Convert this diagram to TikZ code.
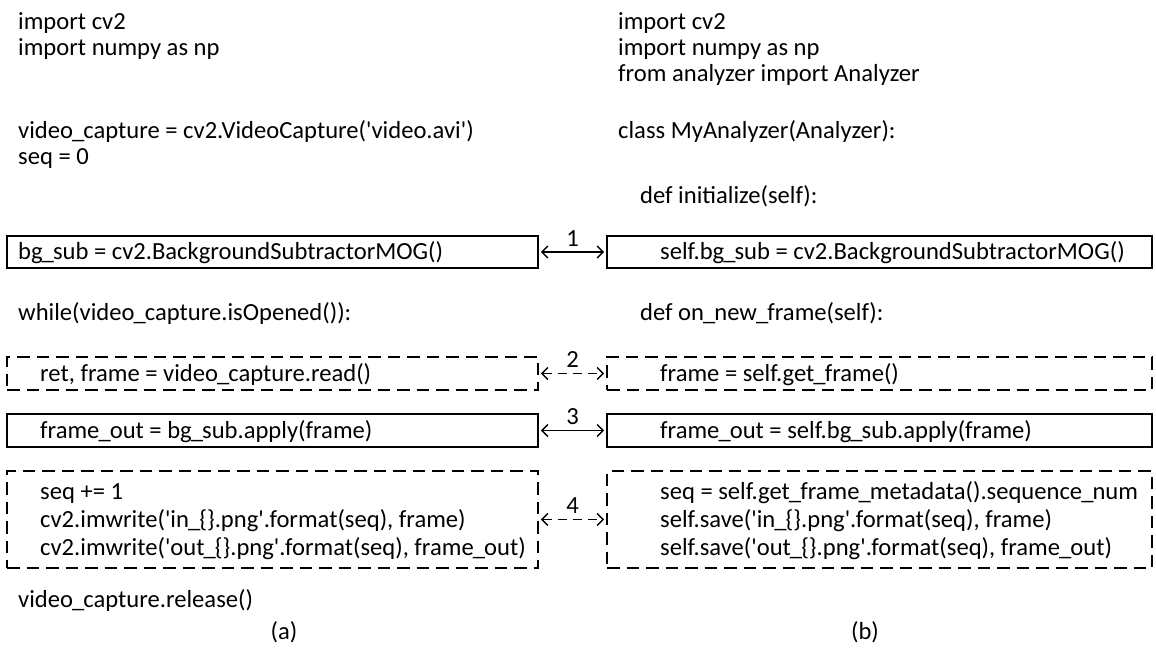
\documentclass[tikz,border=0pt]{standalone}
\usepackage{fontspec}
\setmainfont{Carlito}
\usetikzlibrary{arrows.meta}
\newcommand\us{\makebox[0.42em][c]{\_}}
\newcommand\sq{\XeTeXglyph\XeTeXcharglyph"27\relax}
\tikzset{
  every node/.style={font=\fontsize{24.6}{29}\selectfont, inner sep=0pt},
  code/.style={anchor=base west, yshift=-7.5pt},
  solidbox/.style={draw, line width=1.8pt, inner sep=0pt},
  dashbox/.style={draw, line width=1.8pt, dash pattern=on 12.5pt off 7pt, inner sep=0pt},
  link/.style={line width=1.4pt, {Straight Barb[length=6pt,width=12pt]}-{Straight Barb[length=6pt,width=12pt]}},
  dlink/.style={link, dash pattern=on 9pt off 6pt},
  lbl/.style={anchor=south, yshift=5pt}
}
\begin{document}
\begin{tikzpicture}[x=1pt,y=-1pt]
\useasboundingbox (0,0) rectangle (1156,649);
% left column
\node[code] (a1) at (18,22) {import cv2};
\node[code] (a2) at (18,48) {import numpy as np};
\node[code] (a3) at (18,131) {video\us capture = cv2.VideoCapture(\sq video.avi\sq)};
\node[code] (a4) at (18,157) {seq = 0};
\node[solidbox, minimum width=531pt, minimum height=32pt] (L1) at (272.5,252) {};
\node[code] (a5) at (18,252) {bg\us sub = cv2.BackgroundSubtractorMOG()};
\node[code] (a6) at (18,313) {while(video\us capture.isOpened()):};
\node[dashbox, minimum width=531pt, minimum height=33pt] (L2) at (272.5,373.5) {};
\node[code] (a7) at (40,373.5) {ret, frame = video\us capture.read()};
\node[solidbox, minimum width=531pt, minimum height=33pt] (L3) at (272.5,430.5) {};
\node[code] (a8) at (40,430.5) {frame\us out = bg\us sub.apply(frame)};
\node[dashbox, minimum width=531pt, minimum height=97pt] (L4) at (272.5,519.5) {};
\node[code] (a9) at (40,492) {seq += 1};
\node[code] (a10) at (40,520) {cv2.imwrite(\sq in\us\{\}.png\sq.format(seq), frame)};
\node[code] (a11) at (40,548) {cv2.imwrite(\sq out\us\{\}.png\sq.format(seq), frame\us out)};
\node[code] (a12) at (18,600) {video\us capture.release()};
\node (capa) at (284,632) {(a)};
% right column
\node[code] (b1) at (618,22) {import cv2};
\node[code] (b2) at (618,48) {import numpy as np};
\node[code] (b3) at (618,74) {from analyzer import Analyzer};
\node[code] (b4) at (618,131) {class MyAnalyzer(Analyzer):};
\node[code] (b5) at (640,196) {def initialize(self):};
\node[solidbox, minimum width=545pt, minimum height=32pt] (R1) at (879.5,252) {};
\node[code] (b6) at (660,252) {self.bg\us sub = cv2.BackgroundSubtractorMOG()};
\node[code] (b7) at (640,313) {def on\us new\us frame(self):};
\node[dashbox, minimum width=545pt, minimum height=33pt] (R2) at (879.5,373.5) {};
\node[code] (b8) at (660,373.5) {frame = self.get\us frame()};
\node[solidbox, minimum width=545pt, minimum height=33pt] (R3) at (879.5,430.5) {};
\node[code] (b9) at (660,430.5) {frame\us out = self.bg\us sub.apply(frame)};
\node[dashbox, minimum width=545pt, minimum height=97pt] (R4) at (879.5,519.5) {};
\node[code] (b10) at (660,492) {seq = self.get\us frame\us metadata().sequence\us num};
\node[code] (b11) at (660,520) {self.save(\sq in\us\{\}.png\sq.format(seq), frame)};
\node[code] (b12) at (660,548) {self.save(\sq out\us\{\}.png\sq.format(seq), frame\us out)};
\node (capb) at (865,632) {(b)};
% links
\draw[link] ([xshift=2pt]L1.east) -- node[lbl] {1} ([xshift=-2pt]R1.west);
\draw[dlink] ([xshift=2pt]L2.east) -- node[lbl] {2} ([xshift=-2pt]R2.west);
\draw[link] ([xshift=2pt]L3.east) -- node[lbl] {3} ([xshift=-2pt]R3.west);
\draw[dlink] ([xshift=2pt]L4.east) -- node[lbl] {4} ([xshift=-2pt]R4.west);
\end{tikzpicture}
\end{document}
